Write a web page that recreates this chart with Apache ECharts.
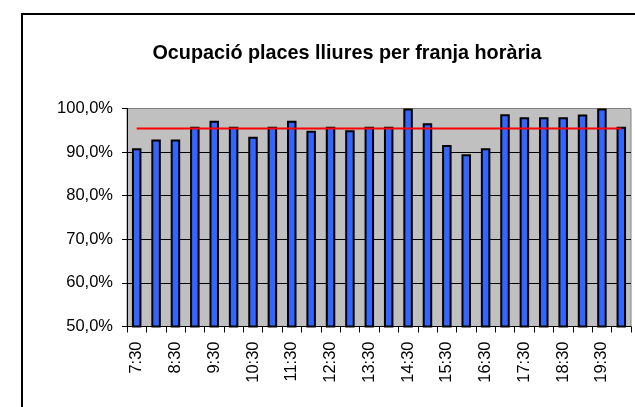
<!DOCTYPE html>
<html>
<head>
<meta charset="utf-8">
<script src="https://cdn.jsdelivr.net/npm/echarts@6/dist/echarts.min.js"></script>
<style>
  html, body { margin: 0; padding: 0; background: #fff; }
  #chart { width: 635px; height: 407px; }
</style>
</head>
<body>
<div id="chart"></div>
<script>
// Half-hour time slots, 7:30 to 20:00
const slots = ['7:30','8:00','8:30','9:00','9:30','10:00','10:30','11:00','11:30','12:00',
  '12:30','13:00','13:30','14:00','14:30','15:00','15:30','16:00','16:30','17:00',
  '17:30','18:00','18:30','19:00','19:30','20:00'];

// Occupancy of free places per slot (%)
const occupancy = [90.9, 92.9, 92.9, 95.8, 97.2, 95.8, 93.5, 95.8, 97.2, 94.9,
  95.8, 95.0, 95.8, 95.8, 100.0, 96.6, 91.6, 89.5, 90.9, 98.7,
  98.0, 98.0, 98.0, 98.6, 100.0, 95.8];

// Reference level drawn across all slots (%)
const referenceLevel = 95.4;
const referenceLine = slots.map(() => referenceLevel);

const yTicks = { min: 50, max: 100, step: 10 };

const chart = echarts.init(document.getElementById('chart'), null, { renderer: 'canvas' });
const font = '"Liberation Sans", Arial, sans-serif';

chart.setOption({
  animation: false,
  backgroundColor: '#ffffff',
  title: {
    text: 'Ocupació places lliures per franja horària',
    left: 342,
    textAlign: 'center',
    top: 39,
    textStyle: { fontFamily: font, fontSize: 19.8, fontWeight: 'bold', color: '#000' }
  },
  graphic: [{
    type: 'rect',
    shape: { x: 22, y: 14, width: 700, height: 500 },
    style: { fill: 'none', stroke: '#000', lineWidth: 2 },
    silent: true
  }],
  grid: {
    left: 127, right: 4, top: 108.5, bottom: 80.5,
    show: true, backgroundColor: '#C0C0C0', borderColor: '#808080', borderWidth: 1
  },
  xAxis: {
    type: 'category',
    data: slots,
    boundaryGap: true,
    axisLine: { lineStyle: { color: '#000', width: 1 } },
    axisTick: { show: true, interval: 0, length: 6, lineStyle: { color: '#000' } },
    axisLabel: {
      interval: 1, rotate: 90, margin: 15,
      fontFamily: font, fontSize: 16.5, color: '#000'
    }
  },
  yAxis: {
    type: 'value',
    min: yTicks.min, max: yTicks.max, interval: yTicks.step,
    axisLine: { show: true, lineStyle: { color: '#000', width: 1 } },
    axisTick: { show: true, length: 5, lineStyle: { color: '#000' } },
    axisLabel: {
      margin: 14, fontFamily: font, fontSize: 16.5, color: '#000',
      formatter: v => v.toFixed(1).replace('.', ',') + '%'
    },
    splitLine: {
      show: true,
      lineStyle: { color: ['#000', '#000', '#000', '#000', '#000', '#808080'], width: 1 }
    }
  },
  series: [{
    type: 'bar',
    data: occupancy,
    barWidth: 9.5,
    itemStyle: { color: '#3366FF', borderColor: '#000', borderWidth: 2 }
  }, {
    type: 'line',
    data: referenceLine,
    symbol: 'none',
    lineStyle: { color: '#FF0000', width: 2 },
    z: 5
  }]
});
</script>
</body>
</html>
